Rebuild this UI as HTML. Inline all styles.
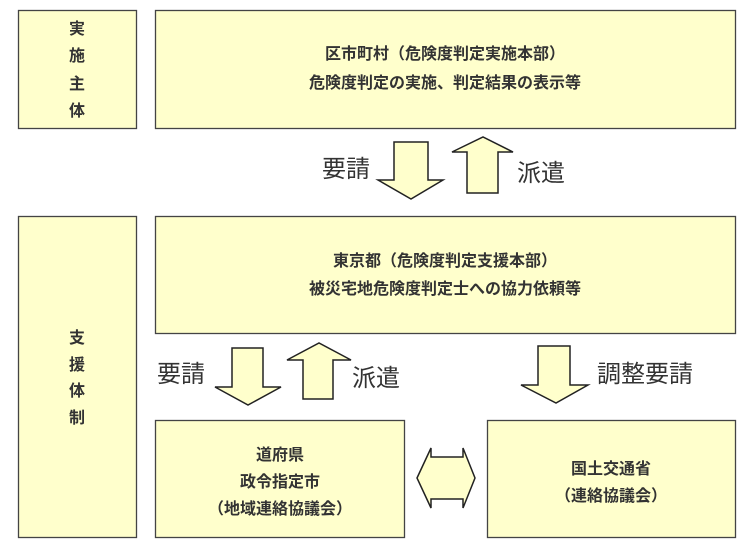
<!DOCTYPE html>
<html><head><meta charset="utf-8"><style>
html,body{margin:0;padding:0;background:#fff;}
svg{display:block;}
.b{fill:#ffffcc;stroke:#444;stroke-width:1.3;}
.t{font-family:"Liberation Sans","Noto Sans CJK JP",sans-serif;font-size:16px;font-weight:bold;fill:#333;text-anchor:middle;}
.l{font-family:"Liberation Sans","Noto Sans CJK JP",sans-serif;font-size:24px;fill:#333;}
.a{fill:#ffffcc;stroke:#222;stroke-width:1.5;stroke-linejoin:miter;}
</style></head><body>
<svg width="750" height="549" viewBox="0 0 750 549">
<rect class="b" x="18.5" y="10.5" width="118" height="118"/>
<rect class="b" x="155.5" y="10.5" width="580" height="118"/>
<rect class="b" x="18.5" y="216.5" width="118" height="321"/>
<rect class="b" x="155.5" y="216.5" width="580" height="117"/>
<rect class="b" x="155.5" y="420.5" width="249" height="117"/>
<rect class="b" x="487.5" y="420.5" width="248" height="117"/>

<text class="t" x="77" y="34">実</text>
<text class="t" x="77" y="61">施</text>
<text class="t" x="77" y="89">主</text>
<text class="t" x="77" y="116">体</text>
<text class="t" x="77" y="343">支</text>
<text class="t" x="77" y="370">援</text>
<text class="t" x="77" y="396">体</text>
<text class="t" x="77" y="423">制</text>

<text class="t" x="445" y="59">区市町村（危険度判定実施本部）</text>
<text class="t" x="445" y="88">危険度判定の実施、判定結果の表示等</text>
<text class="t" x="445" y="266">東京都（危険度判定支援本部）</text>
<text class="t" x="445" y="294">被災宅地危険度判定士への協力依頼等</text>
<text class="t" x="280" y="460">道府県</text>
<text class="t" x="280" y="487">政令指定市</text>
<text class="t" x="280" y="514">（地域連絡協議会）</text>
<text class="t" x="611" y="474">国土交通省</text>
<text class="t" x="611" y="501">（連絡協議会）</text>

<polygon class="a" points="394,142 428,142 428,180 443,180 411,199 378,180 394,180"/>
<polygon class="a" points="467,193 498,193 498,152 513,152 483,137 452,152 467,152"/>
<polygon class="a" points="232,348 263,348 263,387 281,387 248,405 215,387 232,387"/>
<polygon class="a" points="303,399 333,399 333,360 351,360 319,343 287,360 303,360"/>
<polygon class="a" points="538,346 570,346 570,385 588,385 556,403 521,385 538,385"/>
<polygon class="a" points="417,478 431,448 431,457 463,457 463,448 475,478 463,508 463,499 431,499 431,508"/>

<text class="l" x="322" y="177">要請</text>
<text class="l" x="517" y="181">派遣</text>
<text class="l" x="157" y="382">要請</text>
<text class="l" x="352" y="386">派遣</text>
<text class="l" x="597" y="382">調整要請</text>
</svg>
</body></html>
